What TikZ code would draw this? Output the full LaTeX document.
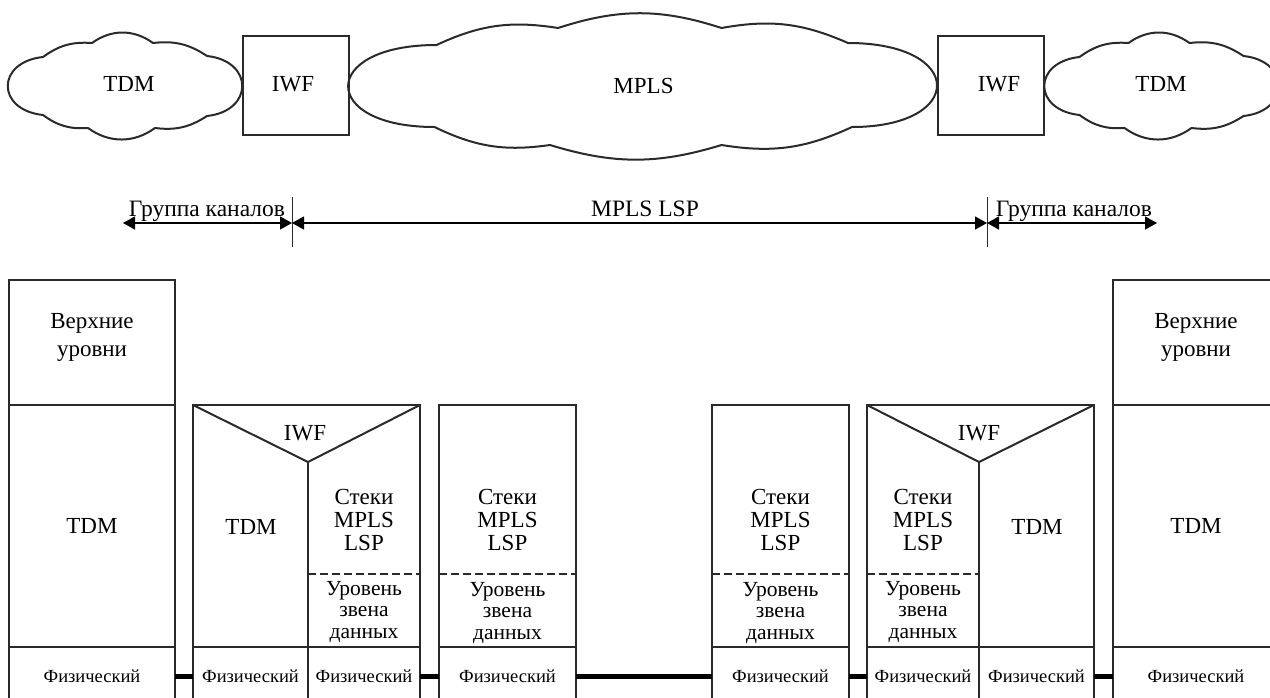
\documentclass[tikz,border=0pt]{standalone}
\usepackage{fontspec}
\setmainfont{Liberation Serif}
\usetikzlibrary{arrows.meta}
\usetikzlibrary{calc}
\usepackage{xcolor}
\definecolor{ink}{RGB}{40,42,44}

\tikzset{
  cell/.style={draw=ink, line width=2pt, inner sep=0pt, outer sep=0pt, align=center,
    anchor=north west, font=\fontsize{23}{23}\selectfont},
  phys/.style={cell, minimum height=58pt, font=\fontsize{18.5}{22}\selectfont},
  txt/.style={inner sep=0pt, align=center, font=\fontsize{23}{23}\selectfont},
  linktxt/.style={txt, font=\fontsize{21.5}{21.5}\selectfont},
  frame/.style={draw=ink, line width=2pt},
  dashline/.style={draw=ink, line width=2pt, dash pattern=on 8pt off 4pt},
  link/.style={line width=5pt},
  dim/.style={line width=1.3pt, {Triangle[length=12pt,width=13pt]}-{Triangle[length=12pt,width=13pt]}},
  cloudline/.style={draw=ink, line width=2pt, line join=round},
  iwfbox/.style={draw=ink, line width=2pt, minimum width=106pt, minimum height=99pt}
}

\begin{document}
\begin{tikzpicture}[x=1pt,y=-1pt]
      \useasboundingbox (0,0) rectangle (1270,697);

      % Network
      \foreach \cx in {125,1161.5}
      {
        \begin{scope}[shift={(\cx,86)}]
          \draw[cloudline] (-82,-29) to[bend left=20] (-33,-43) to[bend left=36] (28,-43)
            to[bend left=20] (82,-30) .. controls (129,-25) and (129,25) .. (82,30)
            to[bend left=20] (30,42) to[bend left=36] (-37,42) to[bend left=20] (-82,29)
            .. controls (-129,24) and (-129,-24) .. (-82,-29) -- cycle;
        \end{scope}
      }
      \begin{scope}[shift={(643.5,86)}]
        \draw[cloudline] (-207,-41) to[bend left=17] (-85.5,-58) to[bend left=18] (78,-58)
          to[bend left=17] (204.5,-43) .. controls (322.5,-43) and (322.5,41) .. (208.5,41)
          to[bend left=17] (78,59) to[bend left=17] (-93.5,59) to[bend left=17] (-209,41)
          .. controls (-324.5,41) and (-324.5,-41) .. (-207,-41) -- cycle;
      \end{scope}
      \node[txt] (tdmL) at (129,84) {TDM};
      \node[iwfbox] (iwfL) at (296,85.5) {};
      \node[txt] (iwfLt) at (293,84) {IWF};
      \node[txt] (mpls) at (643.5,86) {MPLS};
      \node[iwfbox] (iwfR) at (991,85.5) {};
      \node[txt] (iwfRt) at (999,84) {IWF};
      \node[txt] (tdmR) at (1161,84) {TDM};

      % Spans
      \foreach \t in {292,987}
      {
        \coordinate (T\t) at (\t,223);
        \draw[ink, line width=1pt] ($(T\t)+(0,-26)$) -- ($(T\t)+(0,24)$);
      }
      \coordinate (gL) at (123,223);
      \coordinate (gR) at (1157,223);
      \draw[dim] (gL) -- (T292);
      \draw[dim] (T292) -- (T987);
      \draw[dim] (T987) -- (gR);
      \node[txt, anchor=base, font=\fontsize{23.5}{24}\selectfont] (grpL) at (207,216) {Группа каналов};
      \node[txt, anchor=base, font=\fontsize{23.5}{24}\selectfont] (lsp) at (645,216) {MPLS LSP};
      \node[txt, anchor=base, font=\fontsize{23.5}{24}\selectfont] (grpR) at (1074,216) {Группа каналов};

      % End stacks
      \foreach \x/\s in {9/L,1113/R}
      {
        \node[cell, minimum width=166pt, minimum height=125pt] (up\s) at (\x,280) {};
        \node[txt, font=\fontsize{23}{28}\selectfont] (upT\s) at ($(\x,337)+(83,0)$) {Верхние\\уровни};
        \node[cell, minimum width=166pt, minimum height=242pt] (tdmS\s) at (\x,405) {TDM};
        \node[phys, minimum width=166pt] (ph\s) at (\x,647) {Физический};
      }

      % IWF stack, left
      \draw[frame] (193,405) rectangle (420,647);
      \draw[frame] (193,405) -- (308,462) -- (420,405);
      \draw[frame] (308,462) -- (308,647);
      \draw[dashline] (308,574) -- (420,574);
      \node[txt] (iwfA) at (305,433) {IWF};
      \node[txt] (tdmA) at (251,527) {TDM};
      \node[txt] (lspA) at (364,520) {Стеки\\MPLS\\LSP};
      \node[linktxt] (dlA) at (364,612) {Уровень\\звена\\данных};
      \node[phys, minimum width=115pt] (phA1) at (193,647) {Физический};
      \node[phys, minimum width=112pt] (phA2) at (308,647) {Физический};

      % MPLS stacks
      \foreach \x/\n in {439/B,712/C}
      {
        \draw[frame] (\x,405) rectangle ($(\x,647)+(137,0)$);
        \draw[dashline] (\x,574) -- ($(\x,574)+(137,0)$);
        \node[txt] (lsp\n) at ($(\x,520)+(68.5,0)$) {Стеки\\MPLS\\LSP};
        \node[linktxt] (dl\n) at ($(\x,613)+(68.5,0)$) {Уровень\\звена\\данных};
        \node[phys, minimum width=137pt] (ph\n) at (\x,647) {Физический};
      }

      % IWF stack, right
      \draw[frame] (867,405) rectangle (1094,647);
      \draw[frame] (867,405) -- (979,462) -- (1094,405);
      \draw[frame] (979,462) -- (979,647);
      \draw[dashline] (867,574) -- (979,574);
      \node[txt] (iwfD) at (979,433) {IWF};
      \node[txt] (lspD) at (923,520) {Стеки\\MPLS\\LSP};
      \node[linktxt] (dlD) at (923,612) {Уровень\\звена\\данных};
      \node[txt] (tdmD) at (1037,527) {TDM};
      \node[phys, minimum width=112pt] (phD1) at (867,647) {Физический};
      \node[phys, minimum width=115pt] (phD2) at (979,647) {Физический};

      % Physical links
      \draw[link] (phL.east) -- (phA1.west);
      \draw[link] (phA2.east) -- (phB.west);
      \draw[link] (phB.east) -- (phC.west);
      \draw[link] (phC.east) -- (phD1.west);
      \draw[link] (phD2.east) -- (phR.west);
\end{tikzpicture}
\end{document}
